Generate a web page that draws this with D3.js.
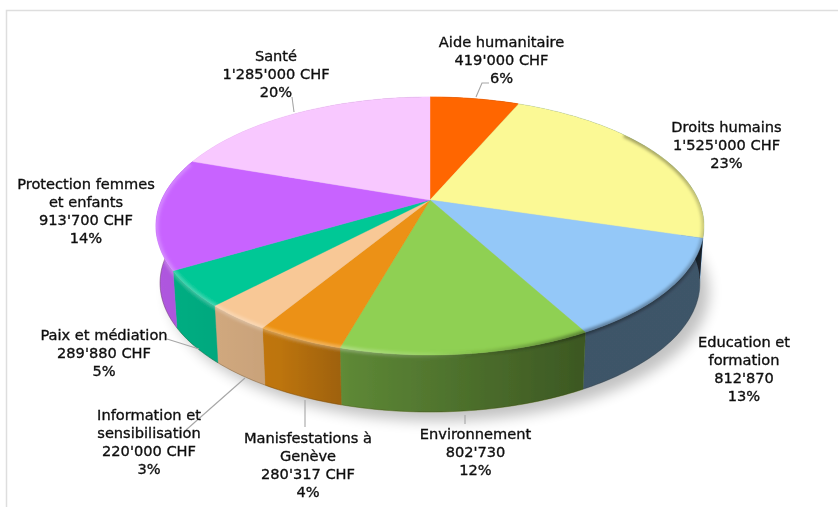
<!DOCTYPE html>
<html><head><meta charset="utf-8">
<script src="https://cdn.jsdelivr.net/npm/d3@7"></script>
<style>html,body{margin:0;padding:0;background:#fff;overflow:hidden}svg{display:block}</style>
</head><body><svg id="c" width="838" height="507"></svg>
<script>
const categories = ["Aide humanitaire","Droits humains","Education et formation","Environnement","Manisfestations à Genève","Information et sensibilisation","Paix et médiation","Protection femmes et enfants","Santé"];
const values = [419000,1525000,812870,802730,280317,220000,289880,913700,1285000];
const colors = ["#ff6600","#fbf995","#94c8f8","#8fd052","#ec9112","#f8c896","#00c896","#c864ff","#f8c8ff"];
const labelLines = [
  ["Aide humanitaire","419'000 CHF","6%"],
  ["Droits humains","1'525'000 CHF","23%"],
  ["Education et","formation","812'870","13%"],
  ["Environnement","802'730","12%"],
  ["Manisfestations à","Genève","280'317 CHF","4%"],
  ["Information et","sensibilisation","220'000 CHF","3%"],
  ["Paix et médiation","289'880 CHF","5%"],
  ["Protection femmes","et enfants","913'700 CHF","14%"],
  ["Santé","1'285'000 CHF","20%"]
];
const labelX = [501.5,726.5,744,475.5,308,149,104,86,276];
const labelY = [47,131.5,347,439,443,420,340,189,61];
const leaders = [
  [[476,97],[482,83],[489,83]],null,null,
  [[465,415],[465,424]],
  [[305,400],[305,427]],
  [[245,378],[186,430]],
  [[199,349],[167,339]],
  null,
  [[294,112],[292,97]]
];

const svg = d3.select("#c");
const defs = svg.append("defs");
const apex = [430,200], k = 0.2016, depth = 57, bottomScale = 0.985;
const xs = d3.scaleLinear().domain([-1,1]).range([apex[0]-268.4,apex[0]+268.4]);
const ys = d3.scaleLinear().domain([-1,1]).range([apex[1]-123.75,apex[1]+123.75]);
function project(a, bottom){
  const u = Math.sin(a), v = -Math.cos(a), w = 1 - k*v;
  const x = xs(u/w), y = ys(v/w);
  return bottom ? [apex[0]+(x-apex[0])*bottomScale, y+depth] : [x,y];
}
const rim = (a0,a1,b)=>{
  const n = Math.max(2,Math.ceil((a1-a0)/(Math.PI/180)));
  return d3.range(n+1).map(i=>project(a0+(a1-a0)*i/n,b));
};
const line = d3.line();
const closed = pts => line(pts)+"Z";
const pie = d3.pie().sort(null).value(d=>d)(values);
const TAU = Math.PI*2;

const blur=(id,s)=>defs.append("filter").attr("id",id).attr("x","-20%").attr("y","-20%").attr("width","140%").attr("height","140%")
  .append("feGaussianBlur").attr("stdDeviation",s);
blur("soft",0.45); blur("shadow",7); blur("bevel",1.8); blur("txt",0.3);
const grad=(id,stops)=>{
  const g=defs.append("linearGradient").attr("id",id).attr("gradientUnits","userSpaceOnUse")
    .attr("x1",150).attr("x2",710).attr("y1",0).attr("y2",0);
  stops.forEach(s=>g.append("stop").attr("offset",(s[0]-150)/560).attr("stop-color",s[1]).attr("stop-opacity",s[2]));
};
grad("sideShade",[[150,"#000",.12],[280,"#000",.2],[350,"#000",.35],[460,"#000",.46],[585,"#000",.58],[710,"#000",.58]]);
grad("bevelShade",[[150,"#fff",.22],[330,"#fff",.3],[430,"#fff",.1],[480,"#000",.08],[585,"#000",.36],[680,"#000",.3],[710,"#000",.16]]);
const hull = d3.polygonHull(rim(0,TAU,false).concat(rim(0,TAU,true)));
defs.append("clipPath").attr("id","pieClip").append("path").attr("d",closed(hull));

svg.append("path").attr("d","M6.5,507V10.5H838").attr("fill","none").attr("stroke","#dedede").attr("stroke-width",1.5);

svg.append("path").attr("d",closed(rim(0,TAU,true))).attr("transform","translate(9,9)")
  .attr("fill","#000").attr("opacity",.24).attr("filter","url(#shadow)");

const pieG = svg.append("g").attr("filter","url(#soft)");
const sides = pieG.append("g");
const sidePath = d=>closed(rim(d.startAngle,d.endAngle,false).concat(rim(d.startAngle,d.endAngle,true).reverse()));
sides.selectAll("path.base").data(pie).join("path").attr("class","base").attr("d",sidePath)
  .attr("fill",(d,i)=>i===1?colors[2]:colors[i]).attr("stroke",(d,i)=>i===1?colors[2]:colors[i]).attr("stroke-width",.4);
sides.selectAll("path.shade").data(pie).join("path").attr("class","shade").attr("d",sidePath)
  .attr("fill","url(#sideShade)");
pieG.append("path").attr("d",line(rim(Math.PI*.55,Math.PI*1.5,true))).attr("fill","none").attr("stroke","#3a2a10").attr("stroke-opacity",.3).attr("stroke-width",1);
pieG.append("g").selectAll("path").data(pie).join("path")
  .attr("d",d=>closed([apex].concat(rim(d.startAngle,d.endAngle,false))))
  .attr("fill",(d,i)=>colors[i]).attr("stroke",(d,i)=>colors[i]).attr("stroke-width",.4);
pieG.append("g").attr("clip-path","url(#pieClip)").append("path")
  .attr("d",line(rim(Math.PI*.3,Math.PI*1.6,false))).attr("fill","none")
  .attr("stroke","url(#bevelShade)").attr("stroke-width",5).attr("filter","url(#bevel)");

svg.append("g").selectAll("path").data(leaders.filter(Boolean)).join("path")
  .attr("d",d=>line(d)).attr("fill","none").attr("stroke","#a6a6a6").attr("stroke-width",1.1);

const lab = svg.append("g").attr("filter","url(#txt)")
  .attr("font-family","'DejaVu Sans',Verdana,sans-serif").attr("font-size",14.6)
  .attr("fill","#111").attr("text-anchor","middle")
  .attr("stroke","#111").attr("stroke-width",.35);
labelLines.forEach((ls,i)=>{
  const t=lab.append("text").attr("x",labelX[i]).attr("y",labelY[i]);
  ls.forEach((s,j)=>t.append("tspan").attr("x",labelX[i]).attr("dy",j?18:0).text(s));
});
</script></body></html>
